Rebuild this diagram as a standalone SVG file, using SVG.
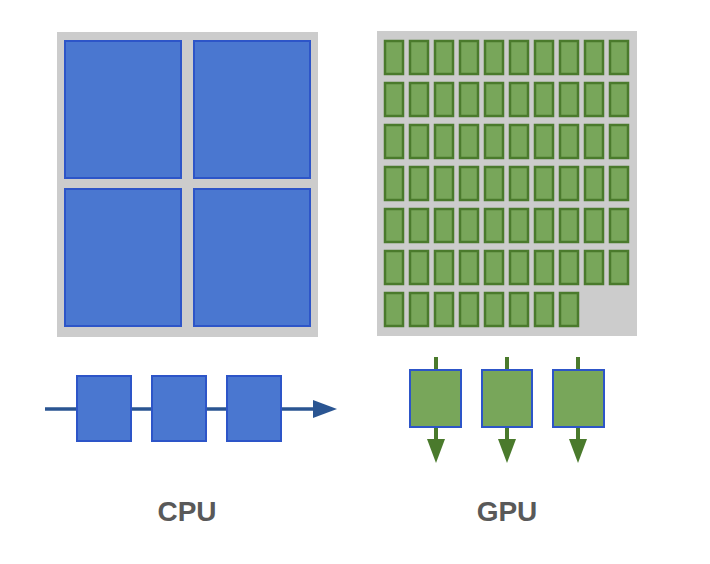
<svg xmlns="http://www.w3.org/2000/svg" width="710" height="564" viewBox="0 0 710 564">
<defs>
<style>
.panel{fill:#cccccc}
.core{fill:#4a77d0;stroke:#2d55c8;stroke-width:2}
.alu{fill:#78a65a;stroke:#4a7a2c;stroke-width:2.5}
.gbox{fill:#78a65a;stroke:#2d55c8;stroke-width:2}
.cline{stroke:#2a5592;stroke-width:3.5;fill:none}
.gline{stroke:#4a7a2c;stroke-width:4;fill:none}
.lbl{font-family:"Liberation Sans",Arial,sans-serif;font-weight:bold;font-size:28px;fill:#595959;text-anchor:middle}
</style>
<g id="alu-row">
<rect class="alu" x="385" y="41" width="18" height="33"/>
<rect class="alu" x="410" y="41" width="18" height="33"/>
<rect class="alu" x="435" y="41" width="18" height="33"/>
<rect class="alu" x="460" y="41" width="18" height="33"/>
<rect class="alu" x="485" y="41" width="18" height="33"/>
<rect class="alu" x="510" y="41" width="18" height="33"/>
<rect class="alu" x="535" y="41" width="18" height="33"/>
<rect class="alu" x="560" y="41" width="18" height="33"/>
</g>
</defs>
<rect width="710" height="564" fill="#ffffff"/>
<g id="cpu-chip">
<rect class="panel" x="57" y="32" width="261" height="305"/>
<rect class="core" x="65" y="41" width="116" height="137"/>
<rect class="core" x="194" y="41" width="116" height="137"/>
<rect class="core" x="65" y="189" width="116" height="137"/>
<rect class="core" x="194" y="189" width="116" height="137"/>
</g>
<g id="gpu-chip">
<rect class="panel" x="377" y="31" width="260" height="305"/>
<use href="#alu-row" y="0"/>
<use href="#alu-row" y="42"/>
<use href="#alu-row" y="84"/>
<use href="#alu-row" y="126"/>
<use href="#alu-row" y="168"/>
<use href="#alu-row" y="210"/>
<use href="#alu-row" y="252"/>
<g>
<rect class="alu" x="585" y="41" width="18" height="33"/>
<rect class="alu" x="610" y="41" width="18" height="33"/>
<rect class="alu" x="585" y="83" width="18" height="33"/>
<rect class="alu" x="610" y="83" width="18" height="33"/>
<rect class="alu" x="585" y="125" width="18" height="33"/>
<rect class="alu" x="610" y="125" width="18" height="33"/>
<rect class="alu" x="585" y="167" width="18" height="33"/>
<rect class="alu" x="610" y="167" width="18" height="33"/>
<rect class="alu" x="585" y="209" width="18" height="33"/>
<rect class="alu" x="610" y="209" width="18" height="33"/>
<rect class="alu" x="585" y="251" width="18" height="33"/>
<rect class="alu" x="610" y="251" width="18" height="33"/>
</g>
</g>
<g id="connectors">
<line class="cline" x1="45" y1="409" x2="316" y2="409"/>
<polygon points="313,400 337,409 313,418" fill="#2a5592"/>
<line class="gline" x1="436" y1="357" x2="436" y2="442"/>
<polygon points="427,439 445,439 436,463" fill="#4a7a2c"/>
<line class="gline" x1="507" y1="357" x2="507" y2="442"/>
<polygon points="498,439 516,439 507,463" fill="#4a7a2c"/>
<line class="gline" x1="578" y1="357" x2="578" y2="442"/>
<polygon points="569,439 587,439 578,463" fill="#4a7a2c"/>
</g>
<g id="cpu-task-1"><rect class="core" x="77" y="376" width="54" height="65"/></g>
<g id="cpu-task-2"><rect class="core" x="152" y="376" width="54" height="65"/></g>
<g id="cpu-task-3"><rect class="core" x="227" y="376" width="54" height="65"/></g>
<g id="gpu-task-1"><rect class="gbox" x="410" y="370" width="51" height="57"/></g>
<g id="gpu-task-2"><rect class="gbox" x="482" y="370" width="50" height="57"/></g>
<g id="gpu-task-3"><rect class="gbox" x="553" y="370" width="51" height="57"/></g>
<g id="label-cpu"><text class="lbl" x="187" y="521">CPU</text></g>
<g id="label-gpu"><text class="lbl" x="507" y="521">GPU</text></g>
</svg>
